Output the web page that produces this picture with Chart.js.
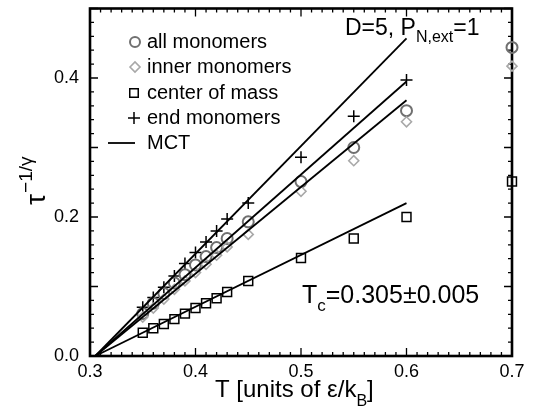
<!DOCTYPE html>
<html>
<head>
<meta charset="utf-8">
<script src="https://cdn.jsdelivr.net/npm/chart.js@4/dist/chart.umd.min.js"></script>
<style>
html,body{margin:0;padding:0;background:#fff;}
#wrap{width:533px;height:408px;position:relative;}
</style>
</head>
<body>
<div id="wrap"><canvas id="c" width="533" height="408"></canvas></div>
<script>
// ---- data ----
const temps = [0.35,0.36,0.37,0.38,0.39,0.40,0.41,0.42,0.43,0.45,0.50,0.55,0.60,0.70];
const allMonomers   = [0.061,0.076,0.090,0.105,0.117,0.131,0.143,0.156,0.169,0.193,0.251,0.300,0.353,0.444];
const innerMonomers = [0.056,0.069,0.082,0.096,0.108,0.120,0.132,0.145,0.157,0.175,0.237,0.281,0.337,0.417];
const centerOfMass  = [0.0335,0.040,0.046,0.053,0.061,0.069,0.076,0.083,0.092,0.108,0.141,0.169,0.200,0.251];
const endTemps      = [0.35,0.36,0.37,0.38,0.39,0.40,0.41,0.42,0.43,0.45,0.50,0.55,0.60];
const endMonomers   = [0.070,0.084,0.099,0.115,0.133,0.149,0.164,0.180,0.197,0.220,0.286,0.345,0.397];
const mctT     = [0.305, 0.60];
const mctEnd   = [0, 0.457];
const mctAll   = [0, 0.395];
const mctInner = [0, 0.368];
const mctCom   = [0, 0.220];
const xTickLabels = ['0.3','0.4','0.5','0.6','0.7'];
const yTickLabels = ['0.0','0.2','0.4'];

const FONT = '"Liberation Sans", Arial, Helvetica, sans-serif';
const pts = (xs, ys) => xs.map((v, i) => ({x: v, y: ys[i]}));

function lineDs(ys){
  return {type:'line', data: pts(mctT, ys), borderColor:'#000', borderWidth:1.8,
          pointRadius:0, fill:false, showLine:true, clip:false};
}

const datasets = [
  lineDs(mctEnd), lineDs(mctAll), lineDs(mctInner), lineDs(mctCom),
  {label:'inner monomers', data: pts(temps, innerMonomers), pointStyle:'rectRot', pointRadius:5,
   borderColor:'#a8a8a8', backgroundColor:'rgba(0,0,0,0)', borderWidth:1.6, showLine:false, clip:false},
  {label:'all monomers', data: pts(temps, allMonomers), pointStyle:'circle', pointRadius:5.5,
   borderColor:'#707070', backgroundColor:'rgba(0,0,0,0)', borderWidth:2, showLine:false, clip:false},
  {label:'center of mass', data: pts(temps, centerOfMass), pointStyle:'rect', pointRadius:6.3,
   borderColor:'#000', backgroundColor:'rgba(0,0,0,0)', borderWidth:1.5, showLine:false, clip:false},
  {label:'end monomers', data: pts(endTemps, endMonomers), pointStyle:'cross', pointRadius:6,
   borderColor:'#000', backgroundColor:'rgba(0,0,0,0)', borderWidth:1.5, showLine:false, clip:false}
];

function drawSym(ctx, style, x, y, r, color, lw){
  ctx.save();
  ctx.strokeStyle = color; ctx.fillStyle = 'rgba(0,0,0,0)'; ctx.lineWidth = lw;
  Chart.helpers.drawPoint(ctx, {pointStyle: style, radius: r, borderWidth: lw, rotation: 0}, x, y);
  ctx.restore();
}

const decor = {
  id:'decor',
  beforeDatasetsDraw(chart){
    const {ctx, chartArea:a, scales:{x, y}} = chart;
    ctx.save();
    ctx.strokeStyle = '#000';
    ctx.lineWidth = 1.3;
    ctx.beginPath();
    for (let i = 0; i <= 40; i++){
      const px = x.getPixelForValue(0.3 + i*0.01);
      const len = (i % 10 === 0) ? 8 : 4;
      ctx.moveTo(px, a.bottom); ctx.lineTo(px, a.bottom - len);
      ctx.moveTo(px, a.top); ctx.lineTo(px, a.top + len);
    }
    for (let i = 0; i <= 25; i++){
      const py = y.getPixelForValue(i*0.02);
      const len = (i % 5 === 0) ? 8 : 4;
      ctx.moveTo(a.left, py); ctx.lineTo(a.left + len, py);
      ctx.moveTo(a.right, py); ctx.lineTo(a.right - len, py);
    }
    ctx.stroke();
    ctx.lineWidth = 2.6;
    ctx.strokeRect(a.left, a.top, a.right - a.left, a.bottom - a.top);
    ctx.restore();
  },
  afterDraw(chart){
    const ctx = chart.ctx;
    ctx.save();
    ctx.fillStyle = '#000';
    ctx.textBaseline = 'alphabetic';
    ctx.textAlign = 'left';
    // D=5, P_{N,ext}=1
    let xx = 345;
    ctx.font = '23px ' + FONT; ctx.fillText('D=5, P', xx, 35); xx += ctx.measureText('D=5, P').width;
    ctx.font = '16px ' + FONT; ctx.fillText('N,ext', xx, 42); xx += ctx.measureText('N,ext').width;
    ctx.font = '23px ' + FONT; ctx.fillText('=1', xx, 35);
    // Tc
    xx = 302;
    ctx.font = '25px ' + FONT; ctx.fillText('T', xx, 303); xx += ctx.measureText('T').width;
    ctx.font = '17px ' + FONT; ctx.fillText('c', xx, 311); xx += ctx.measureText('c').width;
    ctx.font = '25px ' + FONT; ctx.fillText('=0.305\u00B10.005', xx, 303);
    // x title
    xx = 215;
    ctx.font = '24px ' + FONT; ctx.fillText('T [units of \u03B5/k', xx, 397); xx += ctx.measureText('T [units of \u03B5/k').width;
    ctx.font = '16px ' + FONT; ctx.fillText('B', xx, 406); xx += ctx.measureText('B').width;
    ctx.font = '24px ' + FONT; ctx.fillText(']', xx, 397);
    // y title (rotated)
    ctx.save();
    ctx.translate(45, 205);
    ctx.rotate(-Math.PI/2);
    ctx.font = '28px ' + FONT; ctx.fillText('\u03C4', 0, 0);
    const tw = ctx.measureText('\u03C4').width;
    ctx.font = '19px ' + FONT; ctx.fillText('\u22121/\u03B3', tw + 1, -13);
    ctx.restore();
    // legend
    ctx.font = '20px ' + FONT;
    ctx.textBaseline = 'middle';
    const tx = 147;
    drawSym(ctx, 'circle', 135, 42, 5, '#707070', 2);
    ctx.fillText('all monomers', tx, 42);
    drawSym(ctx, 'rectRot', 135, 67, 5, '#a8a8a8', 1.6);
    ctx.fillText('inner monomers', tx, 67);
    drawSym(ctx, 'rect', 134, 93, 6, '#000', 1.5);
    ctx.fillText('center of mass', tx, 93);
    drawSym(ctx, 'cross', 134, 118, 6, '#000', 1.5);
    ctx.fillText('end monomers', tx, 118);
    ctx.beginPath(); ctx.lineWidth = 1.8; ctx.strokeStyle = '#000';
    ctx.moveTo(108, 143); ctx.lineTo(135, 143); ctx.stroke();
    ctx.fillText('MCT', tx, 143);
    ctx.restore();
  }
};

new Chart(document.getElementById('c'), {
  type:'scatter',
  data:{datasets},
  options:{
    responsive:false,
    animation:false,
    devicePixelRatio:1,
    layout:{padding:{top:8.5, right:21, bottom:0, left:0}},
    plugins:{legend:{display:false}, tooltip:{enabled:false}},
    scales:{
      x:{type:'linear', min:0.3, max:0.7,
         grid:{display:false, drawTicks:false}, border:{display:false},
         afterFit(s){ s.height = 52; s.paddingLeft = 0; s.paddingRight = 0; },
         ticks:{stepSize:0.1, autoSkip:false, padding:5, color:'#000',
                font:{size:18, family:FONT},
                callback(v){ const i = Math.round((v-0.3)*10); return (Math.abs((v-0.3)*10 - i) < 1e-6) ? xTickLabels[i] : ''; }}},
      y:{type:'linear', min:0, max:0.5,
         grid:{display:false, drawTicks:false}, border:{display:false},
         afterFit(s){ s.width = 90; s.paddingTop = 0; s.paddingBottom = 0; },
         ticks:{stepSize:0.2, autoSkip:false, padding:11, color:'#000',
                font:{size:18, family:FONT},
                callback(v){ const i = Math.round(v*5); return (Math.abs(v*5 - i) < 1e-6 && i < yTickLabels.length) ? yTickLabels[i] : ''; }}}
    }
  },
  plugins:[decor]
});
</script>
</body>
</html>
